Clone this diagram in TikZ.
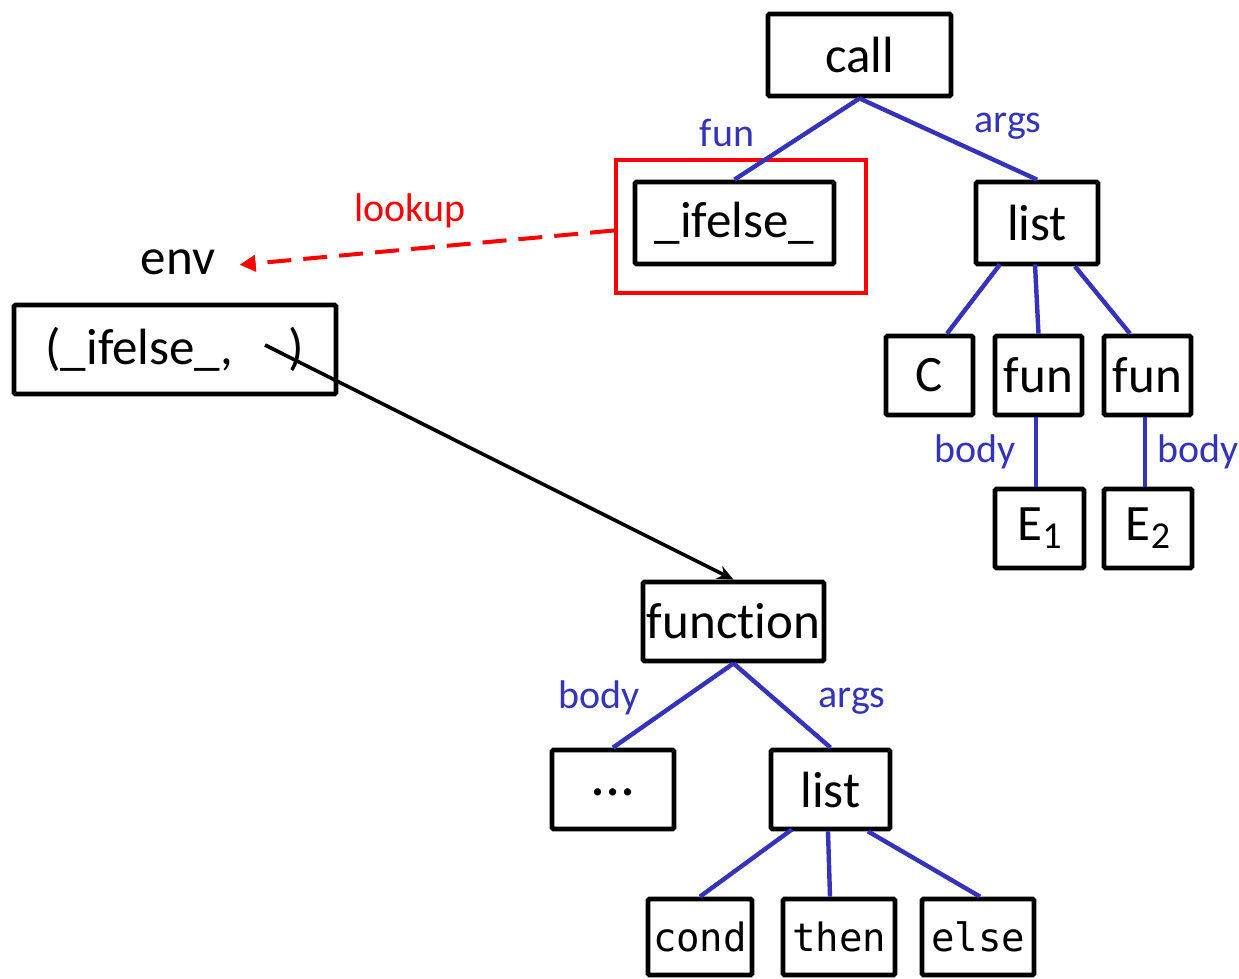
\documentclass[tikz,border=0pt]{standalone}
\usepackage{fontspec}
\setmainfont{Carlito}[Ligatures=NoCommon]
\setmonofont{DejaVu Sans Mono}
\usetikzlibrary{calc,arrows.meta}
\definecolor{edgeblue}{RGB}{51,51,187}
\definecolor{lookred}{RGB}{255,0,0}
\tikzset{
  box/.style={draw=black, line width=2.4pt, rounded corners=0.8pt, inner sep=0pt,
              font=\fontsize{25.5}{30}\selectfont},
  monobox/.style={box, font=\fontsize{19.5}{23}\selectfont\ttfamily},
  edge/.style={draw=edgeblue, line width=2.2pt},
  elabel/.style={text=edgeblue, anchor=base, inner sep=0pt, font=\fontsize{20}{24}\selectfont},
}
\newcommand{\subidx}[1]{\raisebox{-4pt}{\fontsize{19}{22}\selectfont #1}}
\begin{document}
\begin{tikzpicture}[x=0.5pt,y=-0.5pt]
\useasboundingbox (0,0) rectangle (1239,979);

% call tree
\node[box, minimum width=91.5pt, minimum height=41pt] (call) at (859.5,55) {call};
\node[box, minimum width=99.5pt, minimum height=41pt] (ifelse) at (734.5,223) {\_ifelse\_};
\node[draw=lookred, line width=2pt, inner sep=0pt, minimum width=125pt, minimum height=66.5pt] (redbox) at (741,226.5) {};
\node[box, minimum width=61pt, minimum height=41pt] (list) at (1037,223) {list};
\node[box, minimum width=43.5pt, minimum height=39.5pt] (C) at (929.5,375.5) {C};
\node[box, minimum width=43.5pt, minimum height=39.5pt] (fun1) at (1038.5,375.5) {fun};
\node[box, minimum width=43.5pt, minimum height=39.5pt] (fun2) at (1147.5,375.5) {fun};
\node[box, minimum width=44.5pt, minimum height=39.5pt] (E1) at (1039.5,528.5) {E\subidx{1}};
\node[box, minimum width=44pt, minimum height=39.5pt] (E2) at (1148,528.5) {E\subidx{2}};

% environment
\node[anchor=base, inner sep=0pt, font=\fontsize{25.5}{30}\selectfont] (envlabel) at (178,275) {env};
\node[box, minimum width=161pt, minimum height=44.5pt] (envbox) at (175,349.5) {(\_ifelse\_,\hspace{1.1em})};

% function tree
\node[box, minimum width=90.5pt, minimum height=39.5pt] (function) at (733.5,621.5) {function};
\node[box, minimum width=61pt, minimum height=39.5pt, font=\fontsize{30}{34}\selectfont] (dots) at (613,789.5) {\raisebox{-6pt}{...}};
\node[box, minimum width=59.5pt, minimum height=39.5pt] (list2) at (830.5,789.5) {list};
\node[monobox, minimum width=52pt, minimum height=38pt] (cond) at (700,937) {cond};
\node[monobox, minimum width=56pt, minimum height=38pt] (then) at (839,937) {then};
\node[monobox, minimum width=56pt, minimum height=38pt] (else) at (978,937) {else};

% tree edges
\draw[edge] (call.south) -- (ifelse.north);
\draw[edge] (call.south) -- (list.north);
\draw[edge] ($(list.south)+(-37,-2)$) -- ($(C.north)+(17.5,0)$);
\draw[edge] ($(list.south)+(-2,-2)$) -- (fun1.north);
\draw[edge] ($(list.south)+(38,0)$) -- ($(fun2.north)+(-17.5,0)$);
\draw[edge] ($(fun1.south)+(-2.5,0)$) -- ($(E1.north)+(-3.5,0)$);
\draw[edge] ($(fun2.south)+(-2.5,0)$) -- ($(E2.north)+(-3,0)$);
\draw[edge] (function.south) -- (dots.north);
\draw[edge] (function.south) -- (list2.north);
\draw[edge] ($(list2.south)+(-38.5,-2)$) -- (cond.north);
\draw[edge] ($(list2.south)+(-2.5,0)$) -- ($(then.north)+(-9,0)$);
\draw[edge] ($(list2.south)+(37.5,0)$) -- ($(else.north)+(2,0)$);

% edge labels
\node[elabel] (lfun) at (727,147) {fun};
\node[elabel] (largs) at (1008,133) {args};
\node[elabel] (lbody1) at (975,462) {body};
\node[elabel] (lbody2) at (1198,462) {body};
\node[elabel] (lbody3) at (599,708) {body};
\node[elabel] (largs2) at (852,707) {args};
\node[elabel, text=lookred] (llookup) at (410,222) {lookup};

% lookup and binding arrows
\draw[lookred, line width=2pt, dash pattern=on 12pt off 6pt,
      -{Triangle[length=8pt,width=8pt]}]
  ($(redbox.west)+(0,4)$) -- ($(envlabel.east)+(24,2)$);
\draw[black, line width=1.8pt, -{Stealth[length=8pt,width=7pt]}]
  ($(envbox.center)+(90,-4.5)$) -- (function.north);
\end{tikzpicture}
\end{document}
